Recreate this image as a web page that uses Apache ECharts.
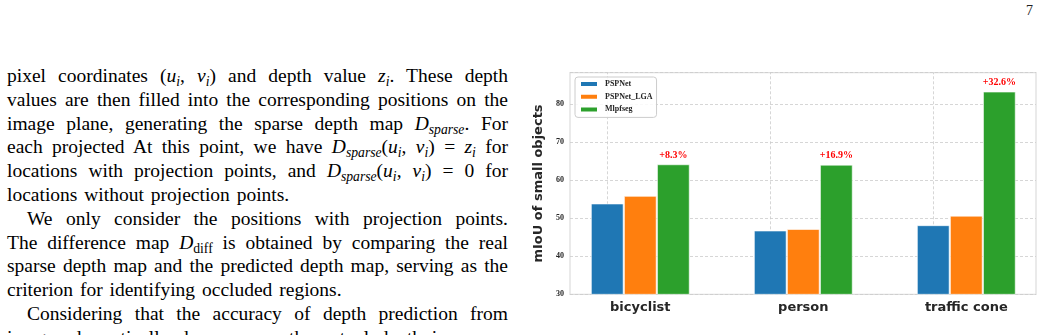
<!DOCTYPE html>
<html>
<head>
  <meta charset="utf-8">
  <title>mIoU of small objects</title>
  <script src="https://cdn.jsdelivr.net/npm/echarts@6/dist/echarts.min.js"></script>
  <style type="text/css">
    body {
      margin: 0;
      padding: 0;
      width: 1048px;
      height: 335px;
      overflow: hidden;
      background: #fff;
      position: relative;
    }
    .page-no {
      position: absolute;
      left: 1026px;
      top: 3px;
      font: 14px "Liberation Serif", serif;
      color: #222;
    }
    .text-box {
      position: absolute;
      left: 7px;
      top: 64px;
      width: 501px;
      font: 19.5px/23.8px "Liberation Serif", serif;
      color: #000;
    }
    .text-box div {
      text-align: justify;
      text-align-last: justify;
      white-space: nowrap;
    }
    .text-box div.end {
      text-align-last: left;
      word-spacing: 2px;
    }
    .text-box div.ind {
      padding-left: 20px;
    }
    .text-box sub {
      font-size: 0.7em;
      vertical-align: -0.3em;
      line-height: 0;
    }
    .chart-box {
      position: absolute;
      left: 520px;
      top: 0;
      width: 528px;
      height: 335px;
    }
  </style>
</head>
<body>
<div class="page-no">7</div>
<div class="text-box">
  <div>pixel coordinates (<i>u<sub>i</sub></i>, <i>v<sub>i</sub></i>) and depth value <i>z<sub>i</sub></i>. These depth</div>
  <div>values are then filled into the corresponding positions on the</div>
  <div>image plane, generating the sparse depth map <i>D<sub>sparse</sub></i>. For</div>
  <div>each projected At this point, we have <i>D<sub>sparse</sub></i>(<i>u<sub>i</sub></i>, <i>v<sub>i</sub></i>) = <i>z<sub>i</sub></i> for</div>
  <div>locations with projection points, and <i>D<sub>sparse</sub></i>(<i>u<sub>i</sub></i>, <i>v<sub>i</sub></i>) = 0 for</div>
  <div class="end">locations without projection points.</div>
  <div class="ind">We only consider the positions with projection points.</div>
  <div>The difference map <i>D</i><sub>diff</sub> is obtained by comparing the real</div>
  <div>sparse depth map and the predicted depth map, serving as the</div>
  <div class="end">criterion for identifying occluded regions.</div>
  <div class="ind">Considering that the accuracy of depth prediction from</div>
  <div>images dramatically decreases as the actual depth increases,</div>
</div>
<div id="main" class="chart-box"></div>
<script>
  // 数据
  var categories = ['bicyclist', 'person', 'traffic cone'];
  var pspnet = [53.8, 46.7, 48.1];
  var pspnetLga = [55.8, 47.1, 50.6];
  var mlpfseg = [64.1, 64.0, 83.2];
  var gains = ['+8.3%', '+16.9%', '+32.6%'];

  var textColor = '#262626';
  var gridLine = {
    show: true,
    lineStyle: {
      color: '#cccccc',
      width: 0.8,
      type: [3, 2]
    }
  };

  var myChart = echarts.init(document.getElementById('main'));
  var option = {
    animation: false,
    legend: {
      orient: 'vertical',
      left: 55,
      top: 77,
      padding: [3, 4, 4, 4],
      itemWidth: 18,
      itemHeight: 6,
      itemGap: 4.7,
      icon: 'rect',
      borderColor: '#cccccc',
      borderWidth: 1,
      borderRadius: 3,
      backgroundColor: 'rgba(255,255,255,0.85)',
      textStyle: {
        fontFamily: 'Liberation Serif',
        fontWeight: 'bold',
        fontSize: 8,
        lineHeight: 8,
        color: textColor,
        padding: [0, 0, 0, 2]
      },
      data: ['PSPNet', 'PSPNet_LGA', 'Mlpfseg']
    },
    grid: [
      {
        // 外框和y轴
        left: 50,
        top: 72.7,
        width: 466,
        height: 221.6,
        show: true,
        borderColor: '#dddddd',
        borderWidth: 1.2,
        backgroundColor: 'transparent'
      },
      {
        // 柱子
        left: 38.8,
        top: 72.7,
        width: 489,
        height: 221.6
      }
    ],
    xAxis: [
      {
        gridIndex: 0,
        type: 'category',
        data: categories,
        show: false
      },
      {
        gridIndex: 1,
        type: 'category',
        data: categories,
        axisLine: { show: false },
        axisTick: { show: false },
        splitLine: { show: false },
        axisLabel: {
          margin: 7,
          fontFamily: 'DejaVu Sans',
          fontWeight: 'bold',
          fontSize: 13,
          color: textColor
        }
      }
    ],
    yAxis: [
      {
        gridIndex: 0,
        type: 'value',
        min: 30,
        max: 88.2,
        interval: 10,
        name: 'mIoU of small objects',
        nameLocation: 'middle',
        nameGap: 21,
        nameTextStyle: {
          fontFamily: 'DejaVu Sans',
          fontWeight: 'bold',
          fontSize: 13,
          color: textColor
        },
        axisLine: { show: false },
        axisTick: { show: false },
        axisLabel: {
          margin: 6,
          showMaxLabel: false,
          fontFamily: 'Liberation Serif',
          fontWeight: 'bold',
          fontSize: 8,
          color: textColor
        },
        splitLine: gridLine
      },
      {
        gridIndex: 1,
        type: 'value',
        min: 30,
        max: 88.2,
        show: false,
        splitLine: { show: false }
      }
    ],
    series: [
      {
        name: 'PSPNet',
        type: 'bar',
        xAxisIndex: 1,
        yAxisIndex: 1,
        barWidth: 32.4,
        barGap: '2%',
        itemStyle: { color: '#1f77b4', borderColor: '#ffffff', borderWidth: 0.6 },
        data: pspnet,
        markLine: {
          z: 1,
          silent: true,
          symbol: 'none',
          label: { show: false },
          lineStyle: { color: '#cccccc', width: 0.8, type: [3, 2] },
          data: categories.map(function (c) { return { xAxis: c }; })
        }
      },
      {
        name: 'PSPNet_LGA',
        type: 'bar',
        xAxisIndex: 1,
        yAxisIndex: 1,
        barWidth: 32.4,
        barGap: '2%',
        itemStyle: { color: '#ff7f0e', borderColor: '#ffffff', borderWidth: 0.6 },
        data: pspnetLga
      },
      {
        name: 'Mlpfseg',
        type: 'bar',
        xAxisIndex: 1,
        yAxisIndex: 1,
        barWidth: 32.4,
        barGap: '2%',
        itemStyle: { color: '#2ca02c', borderColor: '#ffffff', borderWidth: 0.6 },
        label: {
          show: true,
          position: 'top',
          distance: 4,
          fontFamily: 'Liberation Serif',
          fontWeight: 'bold',
          fontSize: 10,
          color: '#ff0000',
          formatter: function (p) { return gains[p.dataIndex]; }
        },
        data: mlpfseg
      }
    ]
  };
  myChart.setOption(option);
  window.addEventListener('resize', function () {
    myChart.resize();
  });
</script>
</body>
</html>
